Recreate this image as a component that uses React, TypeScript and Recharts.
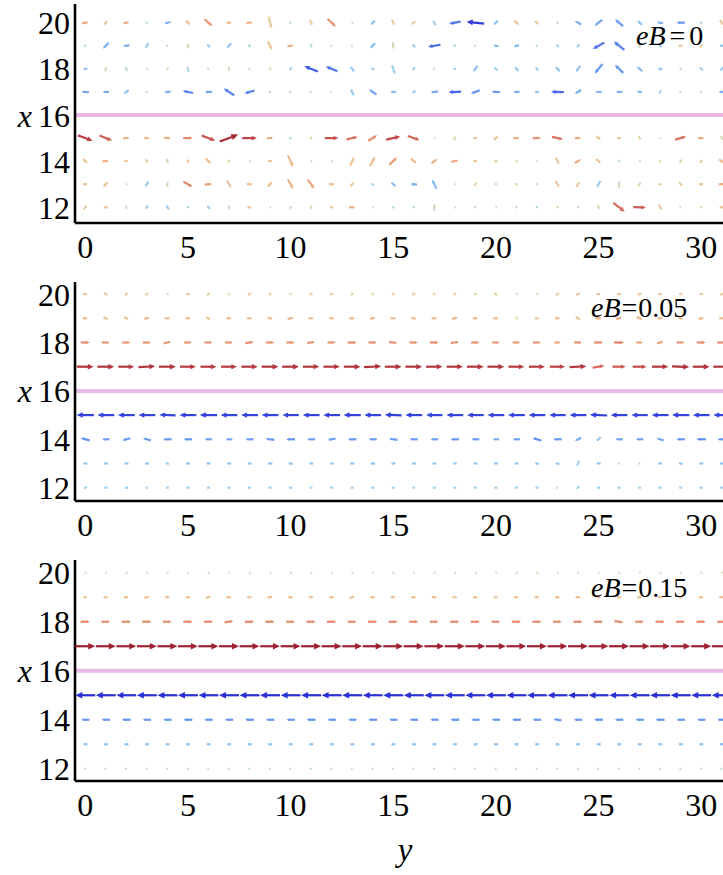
import React from 'react';
import { ScatterChart, Scatter, XAxis, YAxis, ReferenceLine } from 'recharts';

// grid of the vector field: horizontal axis is y, vertical axis is x
const COLS = [0, 1, 2, 3, 4, 5, 6, 7, 8, 9, 10, 11, 12, 13, 14, 15, 16, 17, 18, 19, 20, 21, 22, 23, 24, 25, 26, 27, 28, 29, 30, 31];
const ROWS = [20, 19, 18, 17, 15, 14, 13, 12];
const Y_TICKS = [0, 5, 10, 15, 20, 25, 30];
const X_TICKS = [12, 14, 16, 18, 20];
const PANEL_LABELS = ['0', '0.05', '0.15'];

// eB = 0 : horizontal (u) and vertical (v) components, one row per x
const eb0U = [
  [0.32, 0.18, 0.29, -0.08, -0.29, 0.21, 0.38, 0.25, 0.3, 0.13, -0.06, 0.12, 0.4, 0.06, -0.21, 0.12, 0.16, -0.13, -0.54, -0.84, -0.21, 0.21, 0.17, 0, -0.3, -0.36, -0.38, -0.22, -0.28, -0.4, -0.08, 0.18],
  [-0.08, -0.28, -0.29, -0.13, -0.05, 0.02, -0.15, -0.2, -0.06, 0.2, 0.29, -0.06, -0.04, -0.04, -0.24, 0.04, -0.14, -0.59, -0.08, -0.05, -0.25, -0.24, -0.06, -0.11, -0.14, -0.55, -0.5, 0.02, -0.15, 0.2, 0.14, -0.2],
  [-0.2, 0.03, -0.03, 0.04, 0.08, -0.06, -0.05, 0.02, -0.05, 0.08, -0.12, -0.64, -0.55, -0.18, -0.15, -0.14, -0.12, -0.05, -0.12, -0.2, -0.14, -0.18, -0.15, -0.2, -0.2, -0.38, -0.4, -0.26, -0.2, 0, -0.15, -0.16],
  [-0.35, -0.3, -0.22, -0.06, -0.3, -0.49, -0.35, -0.5, -0.48, -0.06, -0.05, -0.05, -0.04, -0.16, -0.36, -0.25, -0.15, -0.34, -0.6, -0.42, -0.4, -0.3, -0.2, -0.6, -0.3, -0.3, -0.3, -0.25, -0.1, -0.05, -0.05, -0.3],
  [0.7, 0.6, 0.3, 0.25, 0.3, 0.45, 0.65, 0.88, 0.7, 0.3, -0.08, 0.08, 0.65, 0.53, 0.42, 0.67, 0.56, 0.04, 0.08, 0.2, 0.2, 0.3, 0.4, 0.53, 0.3, 0.2, 0.2, 0.1, 0.04, 0.52, 0.3, 0.05],
  [0.21, 0.3, 0.2, 0.12, 0.03, 0.14, 0.25, 0.1, 0.04, 0.2, 0.25, 0.05, 0.05, 0.19, 0.24, 0.37, 0.26, 0.27, 0.34, 0.2, 0.15, 0.07, 0.04, 0.16, 0.3, 0.21, -0.04, 0.04, 0.08, 0.06, 0.14, 0.25],
  [0.2, 0.2, 0.04, -0.15, 0.03, 0.43, 0.35, 0.2, 0.25, 0.21, 0.27, 0.33, 0.25, 0.18, -0.1, -0.23, -0.3, -0.22, 0.04, 0.12, 0.12, 0.12, 0, 0.18, 0.15, -0.17, 0.02, 0.12, 0.15, 0.15, 0.2, 0.3],
  [0.15, 0.2, 0, -0.12, -0.15, -0.07, -0.12, 0.02, 0.2, 0.05, 0.02, 0.04, 0.15, 0.3, 0.04, -0.07, -0.07, 0.02, 0.04, -0.03, 0.04, -0.03, -0.07, 0.07, 0.03, 0.06, 0.55, 0.6, 0.14, -0.05, 0.1, 0.2],
];
const eb0V = [
  [0.06, 0.18, 0.07, 0, -0.07, -0.21, -0.33, 0, 0.03, -0.58, 0.02, -0.28, -0.38, 0, -0.21, -0.28, 0.15, 0.25, -0.1, 0.08, -0.21, -0.21, -0.17, 0.12, 0.17, -0.28, 0.32, 0.2, 0.05, 0, 0.05, -0.24],
  [0, -0.28, -0.06, -0.27, 0.02, 0.25, 0.13, -0.22, 0.14, -0.4, 0.06, 0.14, 0.02, -0.02, -0.25, -0.35, 0.14, -0.1, 0.03, 0.02, 0.02, -0.04, 0, 0.1, -0.14, -0.3, 0.4, 0.2, 0.13, 0, 0.14, 0],
  [0, 0.25, 0.25, 0, 0.04, 0.29, 0, -0.2, 0.02, 0.05, -0.16, 0.26, 0.22, 0.24, 0, 0.43, -0.15, 0, 0, -0.29, 0.14, 0.18, 0.13, 0.22, -0.29, -0.46, 0.38, 0.23, 0.03, 0.1, 0.13, -0.19],
  [0.03, 0, -0.2, 0, -0.03, 0.1, 0, 0.33, -0.14, 0.03, 0.02, 0, 0.02, 0.31, 0.26, 0, -0.13, -0.05, -0.03, -0.16, 0.03, 0, 0, 0.02, -0.18, 0.03, 0, 0.03, -0.17, 0, 0, 0],
  [-0.26, -0.24, 0, 0, -0.02, 0, -0.24, 0.33, 0, 0, -0.09, 0.09, 0, 0.12, 0.26, 0.15, -0.2, 0, 0.18, 0, 0.15, 0, 0.03, -0.12, 0, -0.15, 0, -0.17, 0, 0.15, 0, -0.2],
  [-0.21, 0, 0.02, -0.16, -0.25, -0.14, -0.25, 0.1, 0, 0, -0.55, 0, 0.02, 0.41, 0.44, 0.34, -0.23, 0.22, 0.06, 0, 0, 0.07, 0, -0.31, 0.18, -0.21, 0.09, 0, 0.09, 0.19, 0.14, -0.17],
  [0, 0.22, 0, -0.26, 0.25, -0.25, 0.03, -0.35, 0, 0.21, -0.48, -0.44, 0, 0.18, 0.11, 0.19, 0.03, 0.45, 0, 0.16, 0, 0, 0.1, -0.3, 0.26, -0.31, 0.35, 0.16, 0, -0.2, 0, 0],
  [0.2, 0.03, 0.15, -0.16, 0.2, 0.07, 0.16, 0.2, 0, 0, 0.15, -0.15, -0.02, 0, 0, -0.07, 0.07, 0.35, 0, 0.1, 0, 0.1, 0.07, 0.07, 0.1, -0.19, -0.42, -0.02, -0.27, 0, 0, 0],
];

// eB = 0.05
const eb005U = [
  [0.2, 0.18, 0.14, 0.14, 0.06, 0.15, 0.15, 0.08, 0.14, 0.12, 0.1, 0.14, 0.15, 0.12, 0.1, 0.14, 0.15, 0.12, 0.14, 0.1, 0.14, 0.06, 0.06, 0.15, 0.18, 0.2, 0.2, 0.18, 0.16, 0.15, 0.15, 0.14],
  [0.25, 0.22, 0.2, 0.25, 0.25, 0.25, 0.2, 0.25, 0.25, 0.25, 0.28, 0.25, 0.24, 0.26, 0.25, 0.25, 0.22, 0.25, 0.26, 0.25, 0.25, 0.1, 0.2, 0.25, 0.22, 0.3, 0.28, 0.27, 0.25, 0.22, 0.25, 0.25],
  [0.42, 0.38, 0.38, 0.38, 0.36, 0.38, 0.38, 0.38, 0.4, 0.4, 0.4, 0.38, 0.4, 0.42, 0.4, 0.4, 0.4, 0.42, 0.4, 0.4, 0.36, 0.36, 0.38, 0.32, 0.38, 0.42, 0.48, 0.32, 0.32, 0.38, 0.42, 0.42],
  [0.8, 0.8, 0.76, 0.8, 0.8, 0.76, 0.76, 0.76, 0.78, 0.8, 0.8, 0.78, 0.78, 0.8, 0.82, 0.8, 0.8, 0.78, 0.78, 0.8, 0.8, 0.76, 0.76, 0.72, 0.8, 0.56, 0.62, 0.66, 0.78, 0.82, 0.8, 0.8],
  [-0.82, -0.8, -0.8, -0.8, -0.78, -0.8, -0.82, -0.8, -0.8, -0.8, -0.78, -0.8, -0.8, -0.82, -0.8, -0.8, -0.8, -0.78, -0.8, -0.8, -0.8, -0.8, -0.8, -0.78, -0.8, -0.82, -0.8, -0.78, -0.8, -0.82, -0.8, -0.8],
  [-0.42, -0.35, -0.38, -0.38, -0.4, -0.4, -0.35, -0.32, -0.38, -0.4, -0.42, -0.38, -0.36, -0.4, -0.38, -0.4, -0.38, -0.36, -0.4, -0.38, -0.3, -0.35, -0.42, -0.4, -0.3, -0.2, -0.35, -0.35, -0.33, -0.4, -0.44, -0.4],
  [-0.2, -0.2, -0.2, -0.2, -0.15, -0.2, -0.2, -0.2, -0.2, -0.22, -0.2, -0.2, -0.18, -0.2, -0.22, -0.2, -0.2, -0.2, -0.18, -0.2, -0.2, -0.2, -0.18, -0.18, -0.12, -0.2, -0.06, -0.06, -0.2, -0.18, -0.2, -0.2],
  [-0.12, -0.15, -0.15, -0.1, -0.14, -0.14, -0.15, -0.14, -0.14, -0.14, -0.15, -0.13, -0.14, -0.14, -0.15, -0.14, -0.12, -0.14, -0.14, -0.14, -0.15, -0.14, -0.14, -0.06, -0.12, -0.14, -0.14, -0.13, -0.14, -0.14, -0.15, -0.14],
];
const eb005V = [
  [0, -0.08, 0.1, 0.1, 0, 0, 0.08, 0, 0.1, 0.05, 0, 0.06, -0.05, 0.05, 0, 0.06, 0.05, -0.05, 0.06, 0, -0.1, 0, 0, 0.1, 0.1, 0, 0, 0.05, 0, 0, 0, 0.08],
  [0, -0.1, -0.1, 0.05, 0, 0, -0.1, 0, 0, -0.05, 0.05, 0, -0.05, 0, 0.06, 0, -0.08, 0, 0.05, 0, 0, 0, 0, 0, -0.12, 0, 0.06, -0.12, 0, -0.1, 0.08, 0],
  [0, 0, 0, 0, 0.08, 0, 0, 0, 0.06, 0, 0, 0.05, 0, 0, 0, -0.04, 0, 0, 0.04, 0, 0, 0, 0, 0, 0, 0, 0, 0, 0.1, 0, 0, 0],
  [0, 0, 0, 0.04, 0, 0, 0, 0, 0, 0, 0, 0, 0, 0, 0.04, 0, 0, 0, 0, 0, 0, 0, 0, 0, 0.04, 0.1, 0, 0, 0, -0.03, 0, 0],
  [0, 0, 0, 0, 0.03, 0, 0, 0, 0, 0, 0, 0, 0, 0, 0, 0.03, 0, 0, 0, 0, 0, 0, 0, 0, 0, 0.04, 0, 0, 0, 0, 0, 0],
  [0.12, 0, -0.1, 0.1, 0, 0, 0, 0, 0, 0.05, 0, 0, -0.06, 0, 0, 0.05, 0, 0, 0, 0, 0, 0, 0.12, 0, -0.15, -0.18, 0, 0, 0.1, 0, 0, 0],
  [0, 0, 0, 0, 0.06, 0, 0, 0, 0, 0, 0.05, 0, 0, 0, 0, -0.05, 0, 0, 0, 0, 0, 0, 0.07, 0.07, -0.26, 0, 0, 0, 0, 0.07, 0, 0],
  [-0.1, 0, 0, 0, 0, 0, 0, 0, 0, 0, 0, 0, 0, 0, 0, 0, 0, 0, 0, 0, 0, 0, 0, 0, -0.14, 0, 0, 0, 0, 0, 0, 0],
];

// eB = 0.15
const eb015U = [
  [0.06, 0.05, 0.06, 0.05, 0.06, 0.05, 0.06, 0.05, 0.06, 0.05, 0.06, 0.06, 0.05, 0.06, 0.05, 0.06, 0.05, 0.06, 0.05, 0.06, 0.05, 0.06, 0.06, 0.05, 0.06, 0.05, 0.06, 0.05, 0.06, 0.05, 0.06, 0.06],
  [0.2, 0.22, 0.22, 0.24, 0.22, 0.22, 0.22, 0.22, 0.22, 0.24, 0.22, 0.22, 0.22, 0.24, 0.22, 0.22, 0.22, 0.24, 0.22, 0.22, 0.2, 0.22, 0.22, 0.22, 0.24, 0.22, 0.22, 0.22, 0.22, 0.22, 0.22, 0.24],
  [0.44, 0.42, 0.44, 0.44, 0.42, 0.44, 0.44, 0.42, 0.44, 0.44, 0.42, 0.44, 0.44, 0.42, 0.44, 0.44, 0.44, 0.42, 0.44, 0.44, 0.42, 0.44, 0.44, 0.42, 0.44, 0.44, 0.44, 0.42, 0.44, 0.44, 0.44, 0.44],
  [0.95, 0.95, 0.94, 0.95, 0.95, 0.94, 0.95, 0.95, 0.95, 0.94, 0.95, 0.95, 0.95, 0.94, 0.95, 0.95, 0.95, 0.94, 0.95, 0.95, 0.95, 0.94, 0.95, 0.95, 0.95, 0.94, 0.95, 0.95, 0.95, 0.94, 0.95, 0.95],
  [-0.95, -0.95, -0.94, -0.95, -0.95, -0.95, -0.94, -0.95, -0.95, -0.95, -0.94, -0.95, -0.95, -0.95, -0.94, -0.95, -0.95, -0.95, -0.94, -0.95, -0.95, -0.95, -0.94, -0.95, -0.95, -0.95, -0.94, -0.95, -0.95, -0.95, -0.94, -0.95],
  [-0.4, -0.4, -0.42, -0.4, -0.4, -0.42, -0.4, -0.4, -0.42, -0.4, -0.4, -0.42, -0.4, -0.4, -0.42, -0.4, -0.4, -0.4, -0.42, -0.4, -0.4, -0.42, -0.4, -0.38, -0.4, -0.42, -0.4, -0.4, -0.42, -0.4, -0.4, -0.42],
  [-0.2, -0.2, -0.21, -0.2, -0.2, -0.21, -0.2, -0.2, -0.21, -0.2, -0.2, -0.21, -0.2, -0.2, -0.21, -0.2, -0.2, -0.21, -0.2, -0.2, -0.21, -0.2, -0.2, -0.18, -0.2, -0.21, -0.2, -0.2, -0.21, -0.2, -0.2, -0.21],
  [-0.05, -0.05, -0.06, -0.05, -0.05, -0.06, -0.05, -0.05, -0.06, -0.05, -0.05, -0.06, -0.05, -0.05, -0.06, -0.05, -0.05, -0.06, -0.05, -0.05, -0.06, -0.05, -0.05, -0.06, -0.05, -0.05, -0.06, -0.05, -0.05, -0.06, -0.05, -0.05],
];
const eb015V = [
  [0, 0, 0, 0, 0, 0, 0, 0, 0, 0, 0, 0, 0, 0, 0, 0, 0, 0, 0, 0, 0, 0, 0, 0, 0, 0, 0, 0, 0, 0, 0, 0],
  [0, 0, 0, 0.07, 0, 0, 0.05, 0, 0, 0.05, 0, 0, 0, 0.05, 0, 0, 0, 0, 0, 0, 0, 0, 0, 0, 0, 0, 0, 0, 0, 0, 0, 0],
  [0, 0, 0, 0, 0, 0, 0, 0.06, 0, 0, 0, 0, 0, 0, 0, 0, 0, 0, 0, 0, 0, 0, 0, 0, 0, 0, -0.05, 0, 0, 0, 0, 0],
  [0, 0, 0, 0, 0, 0, 0, 0, 0, 0, 0, 0, 0, 0, 0, 0, 0, 0, 0, 0, 0, 0, 0, 0, 0, 0, 0, 0, 0, 0, 0, 0],
  [0, 0, 0, 0, 0, 0, 0, 0, 0, 0, 0, 0, 0, 0, 0, 0, 0, 0, 0, 0, 0, 0, 0, 0, 0, 0, 0, 0, 0, 0, 0, 0],
  [0, 0, 0, 0, 0, 0, 0, 0, 0, 0, 0, 0, 0, 0, 0, 0, 0, 0, 0, 0, 0, 0, 0, 0.06, 0, 0, 0, 0, 0, 0, 0, 0],
  [0, 0, 0, 0, 0, 0, 0, 0, 0, 0, 0, 0, 0, 0, 0, 0, 0, 0, 0, 0, 0, 0, 0, 0.05, 0, 0, 0, 0, 0, 0, 0, 0],
  [0, 0, 0, 0, 0, 0, 0, 0, 0, 0, 0, 0, 0, 0, 0, 0, 0, 0, 0, 0, 0, 0, 0, 0, 0, 0, 0, 0, 0, 0, 0, 0],
];

const SERIF = '"Liberation Serif", "Times New Roman", serif';
const PX_PER_UNIT = 21; // arrow length in pixels for a vector of magnitude 1

const STOPS: [number, number[]][] = [
  [-1, [40, 40, 210]],
  [-0.7, [58, 80, 228]],
  [-0.45, [92, 140, 240]],
  [-0.25, [132, 186, 242]],
  [-0.1, [168, 214, 240]],
  [0, [198, 222, 196]],
  [0.1, [228, 212, 170]],
  [0.25, [240, 186, 140]],
  [0.45, [228, 134, 104]],
  [0.7, [190, 66, 70]],
  [1, [152, 26, 46]],
];

function colour(u: number) {
  const t = Math.max(-1, Math.min(1, u));
  for (let i = 0; i < STOPS.length - 1; i++) {
    const [a, ca] = STOPS[i];
    const [b, cb] = STOPS[i + 1];
    if (t >= a && t <= b) {
      const f = (t - a) / (b - a);
      const c = ca.map((k, j) => Math.round(k + (cb[j] - k) * f));
      return `rgb(${c[0]},${c[1]},${c[2]})`;
    }
  }
  return 'rgb(200,200,200)';
}

function buildField(U: number[][], V: number[][]) {
  const pts: { y: number; x: number; u: number; v: number }[] = [];
  ROWS.forEach((x, r) => COLS.forEach((y, c) => pts.push({ y, x, u: U[r][c], v: V[r][c] })));
  return pts;
}

function Arrow(props: any) {
  const { cx, cy, payload } = props;
  const { u, v } = payload;
  const m = Math.hypot(u, v);
  if (!m || cx == null || cy == null) return null;
  const L = m * PX_PER_UNIT;
  const dx = u / m;
  const dy = -v / m;
  const x0 = cx - (dx * L) / 2;
  const y0 = cy - (dy * L) / 2;
  const x1 = cx + (dx * L) / 2;
  const y1 = cy + (dy * L) / 2;
  const hl = L * 0.35;
  const hw = L * 0.16;
  const bx = x1 - dx * hl;
  const by = y1 - dy * hl;
  const col = colour(u);
  return (
    <g>
      <line x1={x0} y1={y0} x2={bx + dx} y2={by + dy} stroke={col} strokeWidth={2.2} />
      <polygon
        points={`${x1},${y1} ${bx - dy * hw},${by + dx * hw} ${bx + dy * hw},${by - dx * hw}`}
        fill={col}
      />
    </g>
  );
}

function LeftTick({ x, y, payload }: any) {
  return (
    <text x={x} y={y} dy={11.5} textAnchor="end" fontFamily={SERIF} fontSize={32} fill="#000">
      {payload.value === 16 ? (
        <>
          <tspan fontStyle="italic">x</tspan>
          <tspan dx={6}>16</tspan>
        </>
      ) : (
        payload.value
      )}
    </text>
  );
}

function BottomTick({ x, y, payload }: any) {
  return (
    <text x={x} y={y} dy={35} textAnchor="middle" fontFamily={SERIF} fontSize={32} fill="#000">
      {payload.value}
    </text>
  );
}

const FRAME = { stroke: '#000', strokeWidth: 2.6 };

function Panel({ top, height, domain, data }: { top: number; height: number; domain: [number, number]; data: any[] }) {
  return (
    <div style={{ position: 'absolute', left: 0, top }}>
      <ScatterChart width={732} height={height + 54} margin={{ top: 4, right: 0, bottom: 0, left: 0 }}>
        <XAxis
          type="number"
          dataKey="y"
          domain={[-0.5, 31.5]}
          ticks={Y_TICKS}
          allowDataOverflow
          height={50}
          tickSize={0}
          tickMargin={0}
          tickLine={false}
          axisLine={FRAME}
          tick={<BottomTick />}
          interval={0}
        />
        <XAxis
          xAxisId="top"
          orientation="top"
          type="number"
          dataKey="y"
          domain={[-0.5, 31.5]}
          height={0}
          tick={false}
          tickLine={false}
          axisLine={FRAME}
        />
        <YAxis
          type="number"
          dataKey="x"
          domain={domain}
          ticks={X_TICKS}
          allowDataOverflow
          width={75}
          tickSize={0}
          tickMargin={5}
          tickLine={false}
          axisLine={FRAME}
          tick={<LeftTick />}
          interval={0}
        />
        <ReferenceLine y={16} stroke="#eab8e8" strokeWidth={4} />
        <Scatter data={data} shape={<Arrow />} isAnimationActive={false} />
      </ScatterChart>
    </div>
  );
}

export default function App() {
  const fields = [buildField(eb0U, eb0V), buildField(eb005U, eb005V), buildField(eb015U, eb015V)];
  const labelPos = [
    { x: 636, y: 45 },
    { x: 591, y: 317 },
    { x: 591, y: 597 },
  ];
  return (
    <div style={{ position: 'absolute', left: 0, top: 0, width: 723, height: 875, overflow: 'hidden', background: '#fff' }}>
      <Panel top={0} height={219} domain={[11.32, 20.81]} data={fields[0]} />
      <Panel top={278} height={219} domain={[11.45, 20.5]} data={fields[1]} />
      <Panel top={556} height={221} domain={[11.5, 20.52]} data={fields[2]} />
      <svg width={723} height={875} style={{ position: 'absolute', left: 0, top: 0, pointerEvents: 'none' }}>
        {PANEL_LABELS.map((val, i) => (
          <text key={val} x={labelPos[i].x} y={labelPos[i].y} fontFamily={SERIF} fontSize={28} fill="#000">
            <tspan fontStyle="italic">eB</tspan>
            <tspan dx={i === 0 ? 4 : 1}>=</tspan>
            <tspan dx={i === 0 ? 4 : 1}>{val}</tspan>
          </text>
        ))}
        <text x={405} y={861} textAnchor="middle" fontFamily={SERIF} fontStyle="italic" fontSize={33} fill="#000">
          y
        </text>
      </svg>
    </div>
  );
}
